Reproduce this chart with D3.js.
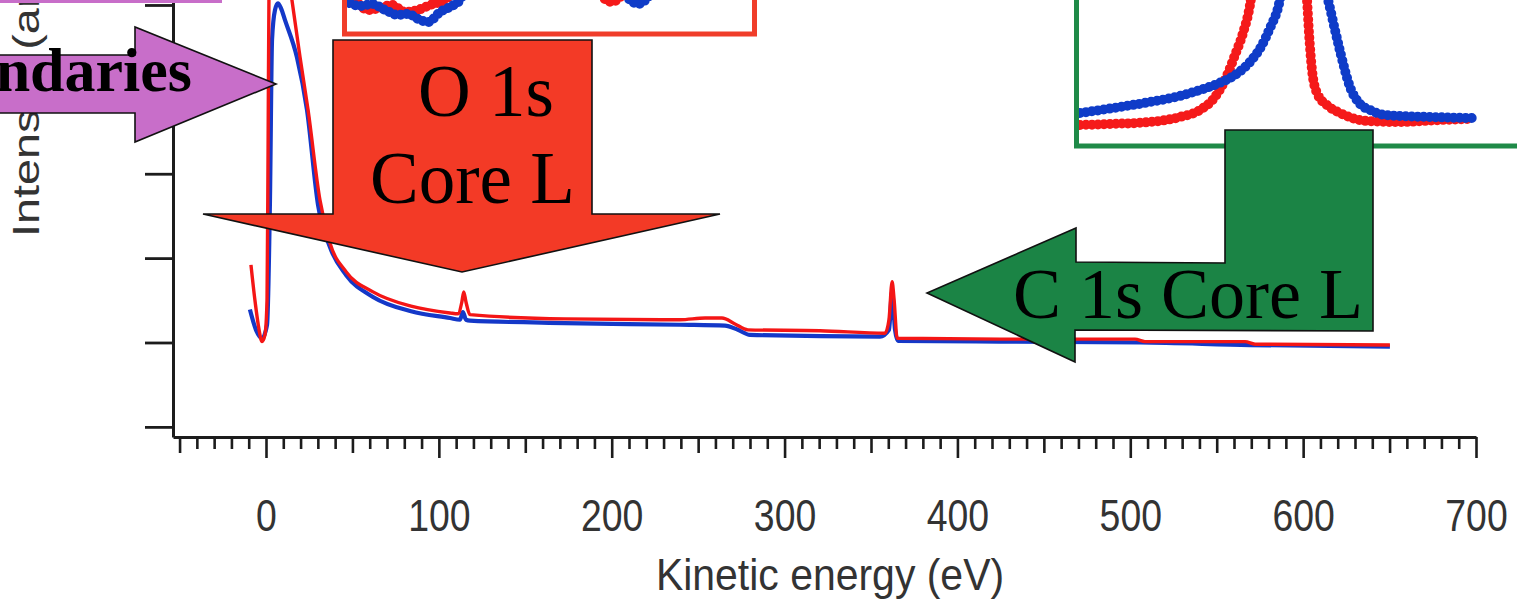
<!DOCTYPE html>
<html>
<head>
<meta charset="utf-8">
<script src="https://cdn.jsdelivr.net/npm/d3@7"></script>
<style>
  body { margin: 0; background: #fff; }
  svg { display: block; }
</style>
</head>
<body>
<svg id="chart"></svg>
<script>
// survey spectra, kinetic energy (eV) vs intensity (arb. units)
var redEnergy = [-8.7, -6.4, -4.0, -2.3, -0.6, 0.6, 1.2, 1.7, 3.5, 6.9, 11.6, 15.0, 19.7, 24.3, 31.2, 37.0, 46.3,
  61.9, 83.9, 106.4, 111.0, 113.3, 114.4, 115.7, 118.0, 173.0, 239.5, 254.0, 263.8, 271.3, 278.8, 320.5,
  358.1, 360.4, 362.2, 363.4, 365.1, 424.6, 502.7, 508.5, 566.4, 572.2, 650.2];
var redIntensity = [1.92, 1.50, 1.15, 1.01, 1.09, 1.50, 3.28, 5.06, 5.77, 6.12, 5.53, 5.06, 4.38, 3.76, 2.69, 2.18, 1.84,
  1.60, 1.43, 1.35, 1.34, 1.48, 1.60, 1.48, 1.33, 1.28, 1.27, 1.29, 1.29, 1.22, 1.15, 1.14,
  1.11, 1.27, 1.72, 1.50, 1.05, 1.04, 1.04, 1.01, 1.01, 0.98, 0.97];

var blueEnergy = [-9.3, -5.8, -2.3, 0.6, 2.3, 3.5, 5.2, 6.9, 8.7, 11.0, 17.9, 23.7, 30.1, 37.0, 46.3,
  61.9, 83.9, 106.4, 112.2, 113.9, 115.7, 118.0, 173.0, 239.5, 265.5, 273.0, 280.0, 355.2,
  360.4, 362.2, 363.9, 365.6, 424.6, 505.6, 569.3, 650.2];
var blueIntensity = [1.39, 1.15, 1.05, 1.21, 2.69, 4.59, 4.94, 5.02, 4.96, 4.82, 4.38, 3.76, 2.63, 2.13, 1.80,
  1.54, 1.37, 1.29, 1.27, 1.36, 1.27, 1.26, 1.23, 1.21, 1.20, 1.15, 1.09, 1.07,
  1.15, 1.60, 1.15, 1.02, 1.01, 1.00, 0.97, 0.95];

var xTickValues = d3.range(-50, 701, 10);
var xTickLabels = [0, 100, 200, 300, 400, 500, 600, 700];
var yTickValues = [0, 1, 2, 3, 4, 5];

// C 1s inset (relative units)
var c1sRedX = [0, 7.5, 17.5, 25, 30, 33.75, 36.25, 38.75, 40.75, 42.5, 44, 46.25, 50, 53.75, 56, 56.75, 57.25, 58, 59.25, 62, 65, 71.75, 80, 90, 97.5];
var c1sRedY = [3.75, 4, 4.5, 5.75, 7.5, 10.75, 15, 21.25, 26.75, 33.75, 45, 55, 60, 55, 42.5, 35, 26.75, 17.5, 11.75, 8.5, 6.75, 4.75, 4.5, 5, 5.25];
var c1sBlueX = [0, 10, 17.5, 25, 30, 34.25, 38.75, 42.5, 45.5, 47.5, 49.5, 51, 55, 59.5, 62, 63.75, 65.25, 67.5, 70, 72.5, 76.25, 87.5, 98];
var c1sBlueY = [6.75, 8.25, 9.5, 11, 12.5, 14, 16.25, 19.5, 23.75, 28, 33, 40, 50, 42.5, 35, 27.5, 21.25, 13.25, 9, 7.5, 6.25, 5.75, 5.5];

// O 1s inset (relative units), NaN = gap
var o1sRedX = [1.2, 2.7, 5.2, 8.1, 11.1, 14.3, 17.5, 20.5, 24.2, 25.9, NaN, 62.5, 65.4, 67.9];
var o1sRedY = [9, 7, 5.25, 5.75, 6.5, 4.75, 5.25, 6.5, 7.75, 9.75, NaN, 9, 7.25, 9];
var o1sBlueX = [0.7, 3.2, 6.2, 9.4, 12.6, 15.1, 18, 20, 23, 25.9, 27.9, 29.1, NaN, 68.6, 71.9, 74.8];
var o1sBlueY = [7, 6.25, 6.75, 5.25, 4, 4.25, 2.75, 2.25, 4.75, 6.25, 7.75, 10.25, NaN, 9, 6.75, 9];

var redColor = "#f41616",
  blueColor = "#1438c8";

var width = 1517,
  height = 599;

var svg = d3.select("#chart")
  .attr("width", width)
  .attr("height", height);

var xScale = d3.scaleLinear().domain([-53.8, 700]).range([173, 1476]);
var yScale = d3.scaleLinear().domain([-0.12, 5.2]).range([437, -11.9]);

// axes
var xAxis = d3.axisBottom(xScale)
  .tickValues(xTickValues)
  .tickSizeOuter(0)
  .tickFormat(function(d) { return xTickLabels.indexOf(d) >= 0 ? d : ""; });

var xAxisG = svg.append("g")
  .attr("transform", "translate(0," + yScale(-0.12) + ")")
  .call(xAxis);

xAxisG.select(".domain").attr("stroke", "#1c1c1c").attr("stroke-width", 3);
xAxisG.selectAll(".tick line")
  .attr("stroke", "#1c1c1c")
  .attr("stroke-width", 2.6)
  .attr("y2", function(d) { return d % 100 === 0 ? 21 : (d % 50 === 0 ? 16 : 12); });
xAxisG.selectAll(".tick text")
  .attr("y", 94)
  .attr("dy", 0)
  .attr("transform", "scale(0.85,1)")
  .style("font-family", "'Liberation Sans', Arial, sans-serif")
  .style("font-size", "44px")
  .style("fill", "#333");

var yAxis = d3.axisLeft(yScale)
  .tickValues(yTickValues)
  .tickSize(28)
  .tickSizeOuter(0)
  .tickFormat("");

var yAxisG = svg.append("g")
  .attr("transform", "translate(" + xScale(-53.8) + ",0)")
  .call(yAxis);

yAxisG.select(".domain").attr("stroke", "#1c1c1c").attr("stroke-width", 3);
yAxisG.selectAll(".tick line").attr("stroke", "#1c1c1c").attr("stroke-width", 2.8);

svg.append("text")
  .attr("transform", "translate(830,590) scale(0.91,1)")
  .style("font-family", "'Liberation Sans', Arial, sans-serif")
  .style("font-size", "45px")
  .style("fill", "#333")
  .style("text-anchor", "middle")
  .text("Kinetic energy (eV)");

svg.append("text")
  .attr("transform", "translate(39,237) rotate(-90) scale(1.3,1)")
  .style("font-family", "'Liberation Sans', Arial, sans-serif")
  .style("font-size", "36px")
  .style("fill", "#333")
  .style("text-anchor", "start")
  .text("Intensity (arb. units)");

// spectra
var line = d3.line()
  .x(function(d) { return xScale(d[0]); })
  .y(function(d) { return yScale(d[1]); })
  .curve(d3.curveMonotoneX);

svg.append("path")
  .datum(d3.zip(blueEnergy, blueIntensity))
  .attr("d", line)
  .attr("fill", "none")
  .attr("stroke", blueColor)
  .attr("stroke-width", 4.2);

svg.append("path")
  .datum(d3.zip(redEnergy, redIntensity))
  .attr("d", line)
  .attr("fill", "none")
  .attr("stroke", redColor)
  .attr("stroke-width", 3.4);

// insets
var defs = svg.append("defs");
defs.append("clipPath").attr("id", "clipO1s")
  .append("rect").attr("x", 347).attr("y", -10).attr("width", 405).attr("height", 41);
defs.append("clipPath").attr("id", "clipC1s")
  .append("rect").attr("x", 1079).attr("y", -10).attr("width", 450).attr("height", 153);

var dotted = function(g, xs, ys, sx, sy, color) {
  var l = d3.line()
    .defined(function(d) { return !isNaN(d[0]); })
    .x(function(d) { return sx(d[0]); })
    .y(function(d) { return sy(d[1]); })
    .curve(d3.curveMonotoneX);
  g.append("path")
    .datum(d3.zip(xs, ys))
    .attr("d", l)
    .attr("fill", "none")
    .attr("stroke", color)
    .attr("stroke-width", 10)
    .attr("stroke-linecap", "round")
    .attr("stroke-dasharray", "0,6");
};

svg.append("rect")
  .attr("x", 344.5).attr("y", -20).attr("width", 410).attr("height", 54)
  .attr("fill", "#fff").attr("stroke", "#f03d2a").attr("stroke-width", 5);
var o1sX = d3.scaleLinear().domain([0, 100]).range([347, 752]);
var o1sY = d3.scaleLinear().domain([0, 100]).range([31, -369]);
var o1sG = svg.append("g").attr("clip-path", "url(#clipO1s)");
dotted(o1sG, o1sRedX, o1sRedY, o1sX, o1sY, "#f51a1a");
dotted(o1sG, o1sBlueX, o1sBlueY, o1sX, o1sY, "#0f3cc8");

svg.append("rect")
  .attr("x", 1076.5).attr("y", -20).attr("width", 480).attr("height", 166)
  .attr("fill", "#fff").attr("stroke", "#1f8a48").attr("stroke-width", 5);
var c1sX = d3.scaleLinear().domain([0, 100]).range([1080, 1480]);
var c1sY = d3.scaleLinear().domain([0, 100]).range([140, -260]);
var c1sG = svg.append("g").attr("clip-path", "url(#clipC1s)");
dotted(c1sG, c1sRedX, c1sRedY, c1sX, c1sY, "#f51a1a");
dotted(c1sG, c1sBlueX, c1sBlueY, c1sX, c1sY, "#0f3cc8");

// annotations
svg.append("rect")
  .attr("x", -10).attr("y", -50).attr("width", 232).attr("height", 53)
  .attr("fill", "#c86ec9");

var arrow = function(points, fill) {
  return svg.append("polygon")
    .attr("points", points.map(function(p) { return p.join(","); }).join(" "))
    .attr("fill", fill)
    .attr("stroke", "#111")
    .attr("stroke-width", 1.6)
    .attr("stroke-linejoin", "miter");
};

arrow([[-20, 55], [135, 55], [135, 27], [276, 84], [135, 142], [135, 113], [-20, 113]], "#c86ec9");
svg.append("text")
  .attr("x", 192).attr("y", 91)
  .style("font-family", "'Liberation Serif', 'Times New Roman', serif")
  .style("font-weight", "bold")
  .style("font-size", "62px")
  .style("fill", "#000")
  .style("text-anchor", "end")
  .text("Boundaries");

arrow([[333, 40], [592, 40], [592, 214], [720, 214], [462, 272], [203, 214], [333, 214]], "#f33a26");
svg.append("text")
  .attr("x", 418).attr("y", 116)
  .style("font-family", "'Liberation Serif', 'Times New Roman', serif")
  .style("font-size", "73px")
  .style("fill", "#000")
  .text("O 1s");
svg.append("text")
  .attr("x", 370).attr("y", 203)
  .style("font-family", "'Liberation Serif', 'Times New Roman', serif")
  .style("font-size", "73px")
  .style("fill", "#000")
  .text("Core L");

arrow([[1225, 130], [1373, 130], [1373, 331], [1075, 330], [1075, 362], [927, 293], [1076, 228], [1076, 262], [1225, 263]], "#1b8445");
svg.append("text")
  .attr("x", 1013).attr("y", 318)
  .style("font-family", "'Liberation Serif', 'Times New Roman', serif")
  .style("font-size", "72px")
  .style("fill", "#000")
  .text("C 1s Core L");
</script>
</body>
</html>
